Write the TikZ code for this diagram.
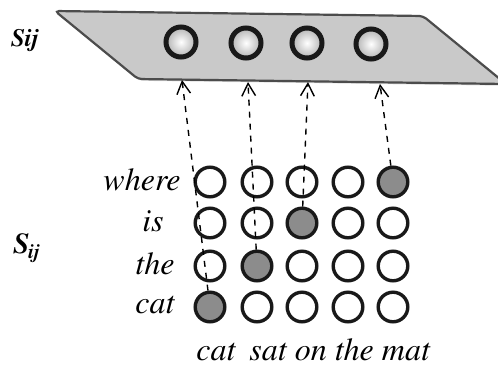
\documentclass[tikz,border=0pt]{standalone}
\usepackage[T1]{fontenc}
\renewcommand{\rmdefault}{ptm}
\usetikzlibrary{arrows.meta,shadows}

\begin{document}
\begin{tikzpicture}[
  x=0.5pt, y=-0.5pt,
  font=\fontsize{16}{18}\selectfont\itshape,
  arr/.style={dashed, line width=0.7pt, -{Straight Barb[length=2.2mm, width=2.4mm]}},
  plane/.style={draw=black!70, line width=1.1pt, fill=black!21, rounded corners=2pt,
    drop shadow={shadow xshift=0.6pt, shadow yshift=-0.9pt, opacity=0.25}},
  unit/.style={circle, draw=black!90, line width=2.5pt, minimum size=15pt, inner sep=0pt,
    inner color=white, outer color=black!30,
    drop shadow={shadow xshift=0pt, shadow yshift=-1.5pt, opacity=0.2}},
  cell/.style={circle, draw=black!90, line width=1.7pt, minimum size=14.8pt, inner sep=0pt, fill=white},
  hit/.style={cell, fill=black!45},
  word/.style={inner sep=0pt}
]
\useasboundingbox (0,0) rectangle (498,365);

% matching plane
\draw[plane] (55,11) -- (423,16) -- (506,84) -- (138,79) -- cycle;
\node[unit] (u1) at (181,42) {};
\node[unit] (u2) at (246,43) {};
\node[unit] (u3) at (307,43) {};
\node[unit] (u4) at (371,44) {};

\node[font=\fontsize{12.5}{14}\selectfont\bfseries\itshape] (sij) at (25,40) {Sij};
\node[font=\fontsize{14.5}{16}\selectfont\bfseries\itshape] (Sij) at (27,248) {S\textsubscript{\kern-0.5pt ij}};

% similarity grid
\node[cell] (where-cat) at (210,182) {};
\node[cell] (where-sat) at (257,182) {};
\node[cell] (where-on)  at (302,182) {};
\node[cell] (where-the) at (348,182) {};
\node[hit]  (where-mat) at (393,182) {};

\node[cell] (is-cat) at (210,223) {};
\node[cell] (is-sat) at (257,223) {};
\node[hit]  (is-on)  at (302,223) {};
\node[cell] (is-the) at (348,223) {};
\node[cell] (is-mat) at (393,223) {};

\node[cell] (the-cat) at (210,266) {};
\node[hit]  (the-sat) at (257,266) {};
\node[cell] (the-on)  at (302,266) {};
\node[cell] (the-the) at (348,266) {};
\node[cell] (the-mat) at (393,266) {};

\node[hit]  (cat-cat) at (210,307) {};
\node[cell] (cat-sat) at (257,307) {};
\node[cell] (cat-on)  at (302,307) {};
\node[cell] (cat-the) at (348,307) {};
\node[cell] (cat-mat) at (393,307) {};

% row and column words
\node[word] (w1) at (142,180) {where};
\node[word] (w2) at (153,221) {is};
\node[word] (w3) at (155,264) {the};
\node[word] (w4) at (155,305) {cat};
\node[word, anchor=west] (cols) at (196,350) {cat\hspace{7pt}sat on the mat};

% pooled maxima go up to the plane
\coordinate (t1) at (182,80);
\coordinate (t2) at (248,82);
\coordinate (t3) at (308,82);
\coordinate (t4) at (380,84);
\draw[arr] (cat-cat) -- (t1);
\draw[arr] (the-sat) -- (t2);
\draw[arr] (is-on) -- (t3);
\draw[arr] (where-mat) -- (t4);

\end{tikzpicture}
\end{document}
